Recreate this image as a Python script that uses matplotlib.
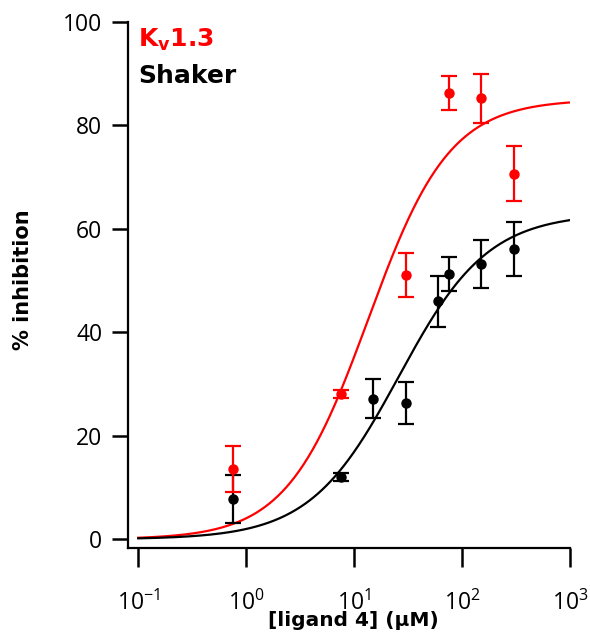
import numpy as np
import matplotlib
matplotlib.use("Agg")
import matplotlib.pyplot as plt

plt.rcParams['font.family'] = ['Open Sans', 'DejaVu Sans']
plt.rcParams['mathtext.default'] = 'regular'

# Data
kv_conc = [0.75, 7.5, 30, 75, 150, 300]
kv_inhib = [13.6, 28.1, 51.1, 86.2, 85.2, 70.6]
kv_err = [4.5, 0.8, 4.2, 3.3, 4.7, 5.3]

sh_conc = [0.75, 7.5, 15, 30, 60, 75, 150, 300]
sh_inhib = [7.8, 12.1, 27.2, 26.3, 46.0, 51.3, 53.2, 56.1]
sh_err = [4.7, 0.8, 3.8, 4.1, 4.9, 3.3, 4.7, 5.2]

# Hill fit parameters (max, IC50, n)
kv_fit = dict(top=85.0, ic50=13.5, n=1.15)
sh_fit = dict(top=63.0, ic50=26.0, n=1.05)

xticks = [0.1, 1, 10, 100, 1000]
yticks = [0, 20, 40, 60, 80, 100]

RED = '#ff0000'

def hill(x, top, ic50, n):
    return top / (1.0 + (ic50 / x) ** n)

fig = plt.figure(figsize=(5.9, 6.39), dpi=100)
W, H = 590, 639
ax = fig.add_axes([128 / W, 1 - 548.3 / H, (570 - 128) / W, (548.3 - 21.7) / H])

xs = np.logspace(-1, 3, 400)
ax.plot(xs, hill(xs, **kv_fit), color=RED, lw=1.6, zorder=2)
ax.plot(xs, hill(xs, **sh_fit), color='black', lw=1.6, zorder=2)

ax.errorbar(sh_conc, sh_inhib, yerr=sh_err, fmt='o', color='black', ms=6.5,
            elinewidth=1.6, capsize=5.5, capthick=1.6, zorder=3)
ax.errorbar(kv_conc, kv_inhib, yerr=kv_err, fmt='o', color=RED, ms=6.5,
            elinewidth=1.6, capsize=5.5, capthick=1.6, zorder=4)

ax.set_xscale('log')
ax.set_xlim(10 ** -1.095, 1000)
ax.set_ylim(-1.74, 100)
ax.set_xticks(xticks)
ax.set_yticks(yticks)
ax.xaxis.set_minor_locator(matplotlib.ticker.NullLocator())

for s in ['top', 'right']:
    ax.spines[s].set_visible(False)
for s in ['left', 'bottom']:
    ax.spines[s].set_linewidth(1.6)

ax.tick_params(axis='x', direction='out', length=13.5, width=1.8, pad=17, labelsize=16.5)
ax.tick_params(axis='y', direction='out', length=11.5, width=1.8, pad=7, labelsize=16.5)

ax.set_xlabel('[ligand 4] (\u03bcM)', fontsize=14.5, fontweight='bold',
              family='DejaVu Sans')
ax.xaxis.set_label_coords((353.5 - 128) / 442, (548.3 - 611) / 526.6)
ax.set_ylabel('% inhibition', fontsize=15, fontweight='bold', family='DejaVu Sans')
ax.yaxis.set_label_coords(-(128 - 33) / 442, (548.3 - 280) / 526.6)

fig.text(138 / W, 1 - 47 / H, r'K$_v$1.3', color=RED, fontsize=18,
         fontweight='bold', family='DejaVu Sans', va='baseline', ha='left')
fig.text(138 / W, 1 - 83 / H, 'Shaker', color='black', fontsize=18,
         fontweight='bold', family='DejaVu Sans', va='baseline', ha='left')

fig.savefig('out.png', dpi=100)
